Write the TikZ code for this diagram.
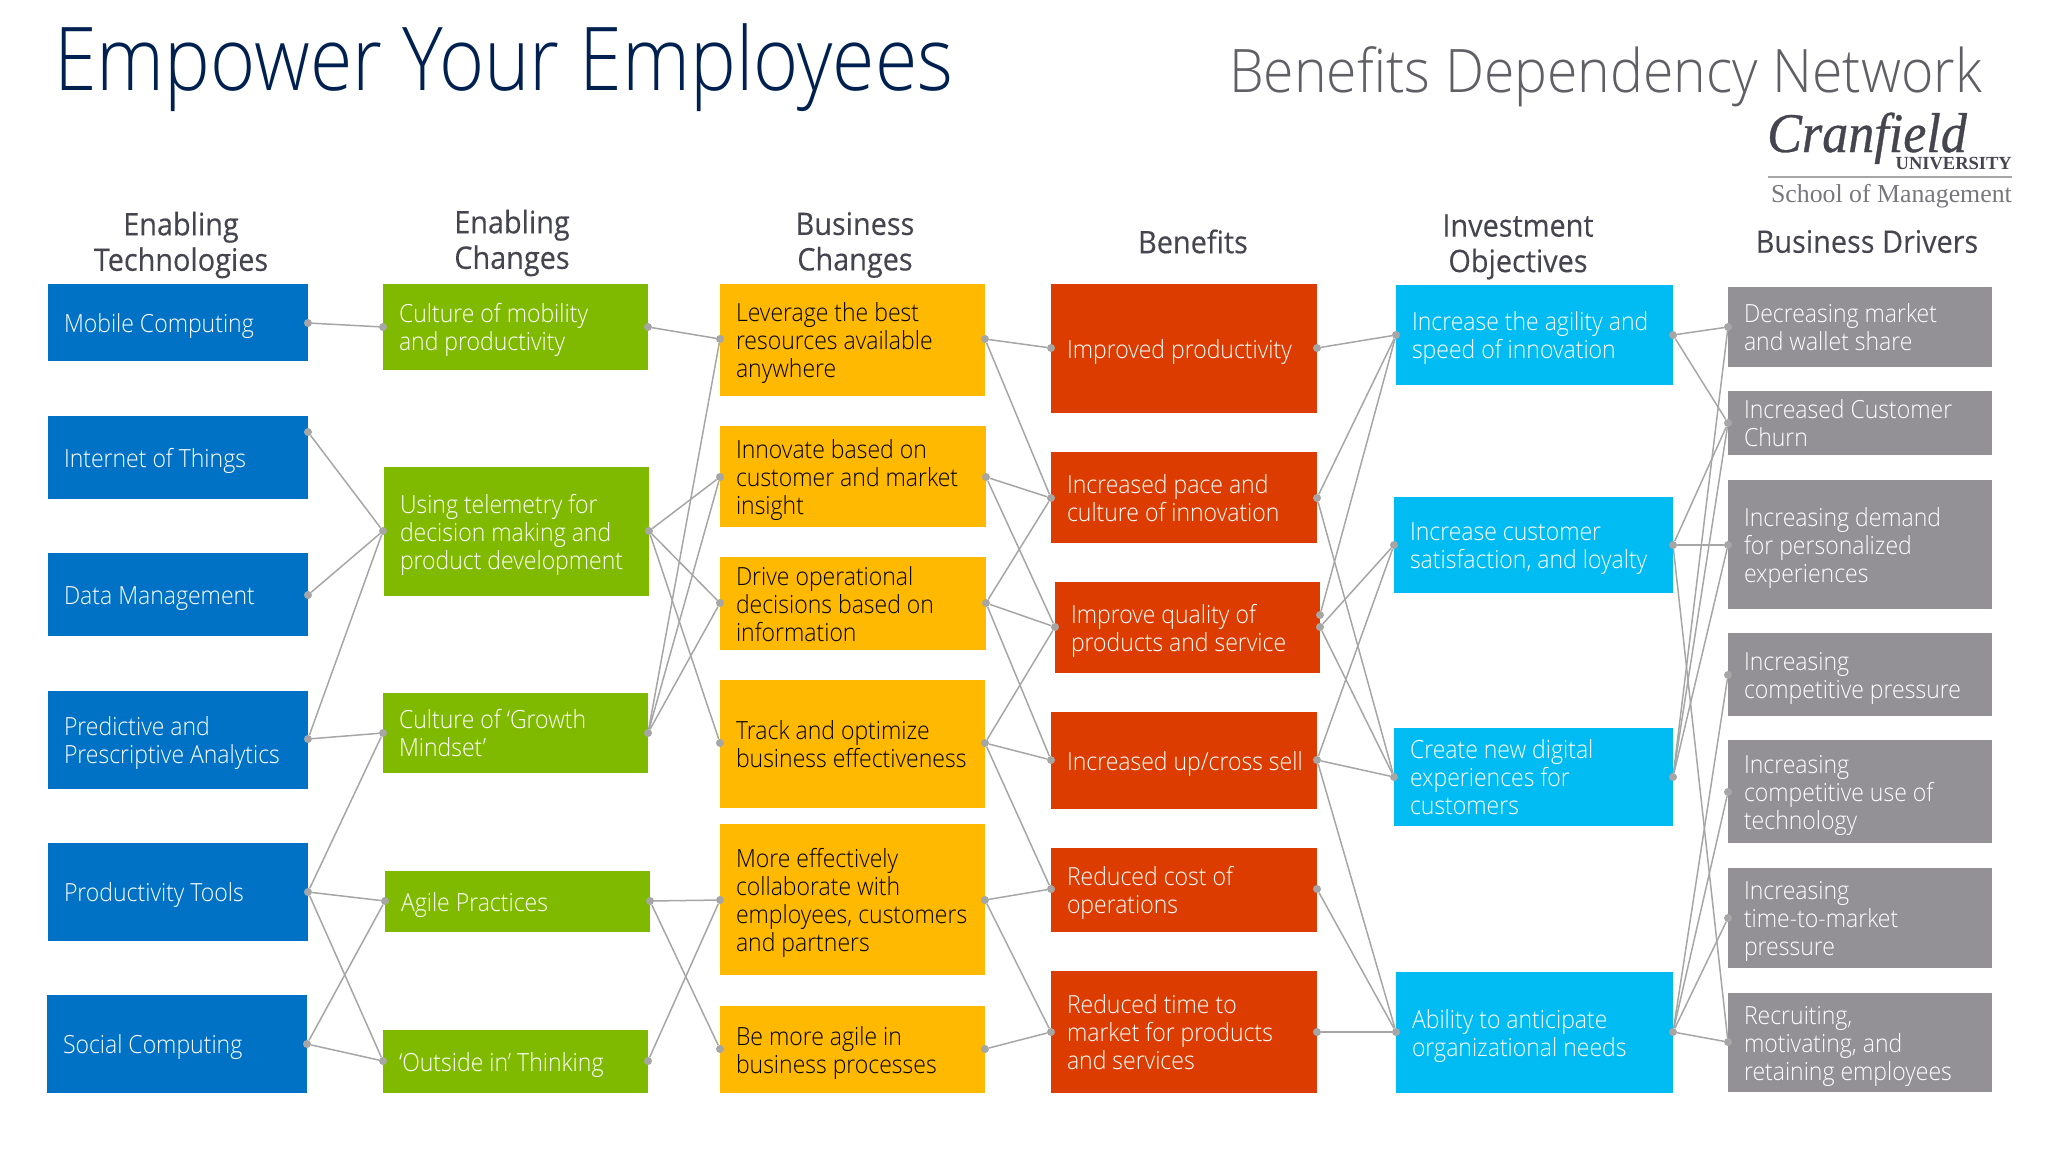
\documentclass[tikz,border=0pt]{standalone}
\usepackage{fontspec}
\setmainfont{Open Sans Light}[FakeStretch=0.92]
\newfontfamily\headfont{Open Sans}[FakeStretch=0.93,FakeBold=0.25]
\newfontfamily\titlefont{Open Sans Light}[FakeStretch=0.876]
\newfontfamily\subfont{Open Sans Light}[FakeStretch=0.922]
\newfontfamily\logofont{Liberation Serif}
\newfontfamily\logoit{Liberation Serif}[ItalicFeatures={FakeStretch=0.93,FakeBold=0.6}]
\definecolor{cblue}{HTML}{0072C6}
\definecolor{cgreen}{HTML}{7FBA00}
\definecolor{corange}{HTML}{FFB900}
\definecolor{cred}{HTML}{DC3C00}
\definecolor{ccyan}{HTML}{00BCF2}
\definecolor{cgray}{HTML}{939196}
\definecolor{cline}{HTML}{A6A6A6}
\definecolor{cnavy}{HTML}{002050}
\definecolor{chead}{HTML}{45454F}
\definecolor{csub}{HTML}{5F5F66}
\tikzset{
  boxstyle/.style={inner ysep=0pt,inner xsep=16pt,outer sep=0pt,text=white,
    font=\fontsize{25}{28}\selectfont},
  blue box/.style={boxstyle,fill=cblue},
  green box/.style={boxstyle,fill=cgreen},
  orange box/.style={boxstyle,fill=corange,text=black},
  red box/.style={boxstyle,fill=cred},
  cyan box/.style={boxstyle,fill=ccyan},
  gray box/.style={boxstyle,fill=cgray},
  port/.style={circle,fill=cline,inner sep=0pt,minimum size=8pt},
  link/.style={draw=cline,line width=1.5pt},
  heading/.style={align=center,text=chead,font=\headfont\fontsize{31}{35.5}\selectfont},
}
% name, x1, y1, x2, y2, style, text
\newcommand{\bx}[7]{%
  \pgfmathsetmacro{\bh}{#5-#3}%
  \pgfmathsetmacro{\tw}{#4-#2-32}%
  \node[#6,minimum height=\bh pt] (#1) at ({(#2+#4)/2},{(#3+#5)/2})
    {\vbox{\vskip 8pt\hbox{\makebox[\tw pt][l]{\begin{tabular}{@{}l@{}}#7\end{tabular}}}}};}
\newcommand{\pt}[3]{\node[port] (#1) at (#2,#3) {};}
\begin{document}
\begin{tikzpicture}[x=1pt,y=-1pt]
\useasboundingbox (0,0) rectangle (2048,1152);
% titles
\node[anchor=base west,inner sep=0pt,text=cnavy,font=\titlefont\fontsize{88}{90}\selectfont] (title) at (54,90) {Empower Your Employees};
\node[anchor=base west,inner sep=0pt,text=csub,font=\subfont\fontsize{60}{62}\selectfont] (subtitle) at (1229,92) {Benefits Dependency Network};
% logo
\node[anchor=base west,inner sep=0pt,text=chead,font=\logoit\itshape\fontsize{56}{56}\selectfont] (cran) at (1767,152) {Cranfield};
\node[anchor=base east,inner sep=0pt,text=chead,font=\logofont\bfseries\fontsize{18.5}{20}\selectfont] (univ) at (2012,169.5) {UNIVERSITY};
\draw[cline,line width=1.5pt] (1768,177) -- (2012,177);
\node[anchor=base east,inner sep=0pt,text=csub!85,font=\logofont\fontsize{25.8}{26}\selectfont] (school) at (2012,202) {School of Management};
% headings
\node[heading] (h1) at (181,245) {Enabling\\Technologies};
\node[heading] (h2) at (512,243) {Enabling\\Changes};
\node[heading] (h3) at (855,245) {Business\\Changes};
\node[heading] (h4) at (1193,241.5) {Benefits};
\node[heading] (h5) at (1518,247) {Investment\\Objectives};
\node[heading] (h6) at (1867,241.5) {Business Drivers};
% blue
\bx{a1}{48}{284}{308}{361}{blue box}{Mobile Computing}
\bx{a2}{48}{416}{308}{499}{blue box}{Internet of Things}
\bx{a3}{48}{553}{308}{636}{blue box}{Data Management}
\bx{a4}{48}{691}{308}{789}{blue box}{Predictive and\\Prescriptive Analytics}
\bx{a5}{48}{843}{308}{941}{blue box}{Productivity Tools}
\bx{a6}{47}{995}{307}{1093}{blue box}{Social Computing}
% green
\bx{b1}{383}{284}{648}{370}{green box}{Culture of mobility\\and productivity}
\bx{b2}{384}{467}{649}{596}{green box}{Using telemetry for\\decision making and\\product development}
\bx{b3}{383}{693}{648}{773}{green box}{Culture of ‘Growth\\Mindset’}
\bx{b4}{385}{871}{650}{932}{green box}{Agile Practices}
\bx{b5}{383}{1030}{648}{1093}{green box}{‘Outside in’ Thinking}
% orange
\bx{c1}{720}{284}{985}{396}{orange box}{Leverage the best\\resources available\\anywhere}
\bx{c2}{720}{426}{986}{527}{orange box}{Innovate based on\\customer and market\\insight}
\bx{c3}{720}{557}{986}{650}{orange box}{Drive operational\\decisions based on\\information}
\bx{c4}{720}{680}{985}{808}{orange box}{Track and optimize\\business effectiveness}
\bx{c5}{720}{824}{985}{975}{orange box}{More effectively\\collaborate with\\employees, customers\\and partners}
\bx{c6}{720}{1006}{985}{1093}{orange box}{Be more agile in\\business processes}
% red
\bx{d1}{1051}{284}{1317}{413}{red box}{Improved productivity}
\bx{d2}{1051}{452}{1317}{543}{red box}{Increased pace and\\culture of innovation}
\bx{d3}{1055}{582}{1320}{673}{red box}{Improve quality of\\products and service}
\bx{d4}{1051}{712}{1317}{809}{red box}{Increased up/cross sell}
\bx{d5}{1051}{848}{1317}{932}{red box}{Reduced cost of\\operations}
\bx{d6}{1051}{971}{1317}{1093}{red box}{Reduced time to\\market for products\\and services}
% cyan
\bx{e1}{1396}{285}{1673}{385}{cyan box}{Increase the agility and\\speed of innovation}
\bx{e2}{1394}{497}{1673}{593}{cyan box}{Increase customer\\satisfaction, and loyalty}
\bx{e3}{1394}{728}{1673}{826}{cyan box}{Create new digital\\experiences for\\customers}
\bx{e4}{1396}{972}{1673}{1093}{cyan box}{Ability to anticipate\\organizational needs}
% gray
\bx{f1}{1728}{287}{1992}{367}{gray box}{Decreasing market\\and wallet share}
\bx{f2}{1728}{391}{1992}{455}{gray box}{Increased Customer\\Churn}
\bx{f3}{1728}{480}{1992}{609}{gray box}{Increasing demand\\for personalized\\experiences}
\bx{f4}{1728}{633}{1992}{716}{gray box}{Increasing\\competitive pressure}
\bx{f5}{1728}{740}{1992}{843}{gray box}{Increasing\\competitive use of\\technology}
\bx{f6}{1728}{868}{1992}{968}{gray box}{Increasing\\time-to-market\\pressure}
\bx{f7}{1728}{993}{1992}{1092}{gray box}{Recruiting,\\motivating, and\\retaining employees}
% ports
\pt{a1r}{308}{323}\pt{a2r}{308}{432}\pt{a3r}{308}{595}\pt{a4r}{308}{739}\pt{a5r}{308}{892}\pt{a6r}{307}{1044}
\pt{b1l}{383}{327}\pt{b2l}{383}{531}\pt{b3l}{383}{733}\pt{b4l}{385}{901}\pt{b5l}{383}{1061}
\pt{b1r}{648}{327}\pt{b2r}{649}{531}\pt{b3r}{648}{733}\pt{b4r}{650}{901}\pt{b5r}{648}{1061}
\pt{c1l}{720}{339}\pt{c2l}{720}{477}\pt{c3l}{720}{603}\pt{c4l}{720}{743}\pt{c5l}{720}{900}\pt{c6l}{720}{1049}
\pt{c1r}{985}{339}\pt{c2r}{986}{477}\pt{c3r}{986}{603}\pt{c4r}{985}{743}\pt{c5r}{985}{900}\pt{c6r}{985}{1049}
\pt{d1l}{1051}{348}\pt{d2l}{1051}{498}\pt{d3l}{1055}{627}\pt{d4l}{1051}{760}\pt{d5l}{1051}{889}\pt{d6l}{1051}{1032}
\pt{d1r}{1317}{348}\pt{d2r}{1317}{498}\pt{d3u}{1320}{615}\pt{d3r}{1320}{627}\pt{d4r}{1317}{760}\pt{d5r}{1317}{889}\pt{d6r}{1317}{1032}
\pt{e1l}{1396}{335}\pt{e2l}{1394}{545}\pt{e3l}{1394}{777}\pt{e4l}{1396}{1032}
\pt{e1r}{1673}{335}\pt{e2r}{1673}{545}\pt{e3r}{1673}{777}\pt{e4r}{1673}{1032}
\pt{f1l}{1728}{327}\pt{f2l}{1728}{423}\pt{f3l}{1728}{545}\pt{f4l}{1728}{675}\pt{f5l}{1728}{792}\pt{f6l}{1728}{918}\pt{f7l}{1728}{1042}
% connectors
\foreach \s/\t in {a1r/b1l,a2r/b2l,a3r/b2l,a4r/b2l,a4r/b3l,a5r/b3l,a5r/b4l,a5r/b5l,a6r/b4l,a6r/b5l,
  b1r/c1l,b2r/c2l,b2r/c3l,b2r/c4l,b3r/c1l,b3r/c2l,b3r/c3l,b4r/c5l,b4r/c6l,b5r/c5l,
  c1r/d1l,c1r/d2l,c2r/d2l,c2r/d3l,c3r/d2l,c3r/d3l,c3r/d4l,c4r/d3l,c4r/d4l,c4r/d5l,c5r/d5l,c5r/d6l,c6r/d6l,
  d1r/e1l,d2r/e1l,d3u/e1l,d3r/e2l,d3r/e3l,d2r/e3l,d4r/e2l,d4r/e3l,d4r/e4l,d5r/e4l,d6r/e4l,
  e1r/f1l,e1r/f2l,e2r/f2l,e2r/f3l,e2r/f7l,e3r/f1l,e3r/f2l,e3r/f3l,e4r/f4l,e4r/f5l,e4r/f6l,e4r/f7l}
  {\draw[link] (\s) -- (\t);}
\end{tikzpicture}
\end{document}
